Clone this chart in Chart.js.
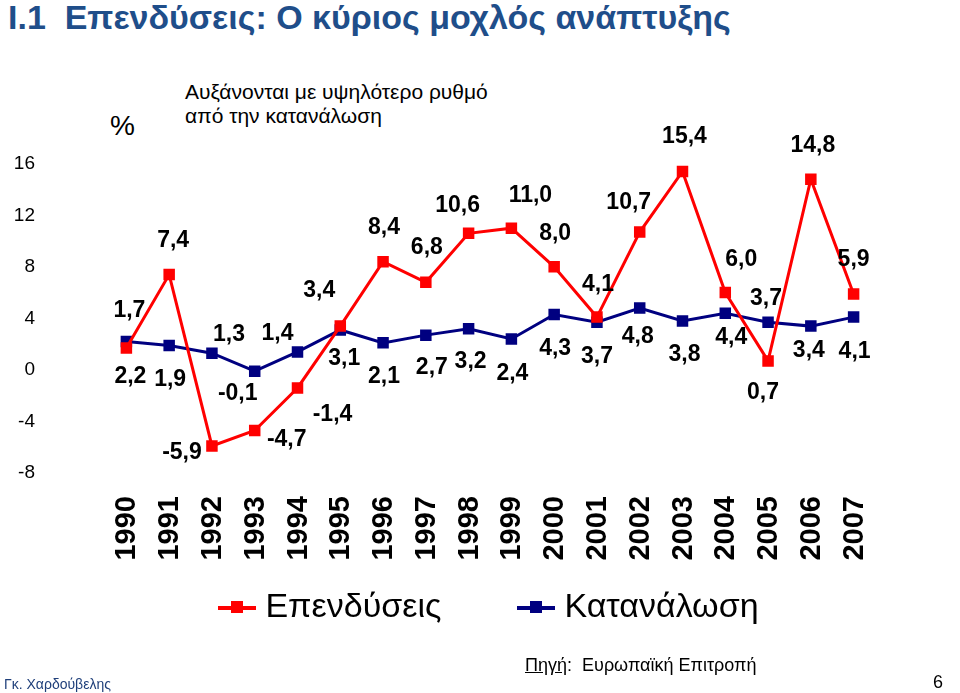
<!DOCTYPE html>
<html>
<head>
<meta charset="utf-8">
<script src="https://cdn.jsdelivr.net/npm/chart.js@4"></script>
<style>
  body { margin: 0; width: 960px; height: 693px; background: #fff; font-family: Arial, "Liberation Sans", sans-serif; position: relative; overflow: hidden; }
  .abs { position: absolute; white-space: nowrap; }
  #chartWrap { position: absolute; left: 0; top: 0; width: 960px; height: 693px; }
</style>
</head>
<body>
<div class="abs" style="left:8px;top:-2px;font-size:34px;font-weight:bold;color:#1f4e8a;">I.1&nbsp; Επενδύσεις: Ο κύριος μοχλός ανάπτυξης</div>
<div class="abs" style="left:110px;top:110px;font-size:28px;">%</div>
<div class="abs" style="left:185px;top:80px;font-size:21px;line-height:24px;">Αυξάνονται με υψηλότερο ρυθμό<br>από την κατανάλωση</div>
<div id="chartWrap"><canvas id="chart" width="960" height="693"></canvas></div>
<div class="abs" style="left:218px;top:586px;font-size:34px;">
  <span style="display:inline-block;width:38px;height:4px;background:#ff0000;vertical-align:middle;position:relative;"><span style="position:absolute;left:13px;top:-5px;width:12px;height:12px;background:#ff0000;"></span></span>
  Επενδύσεις
</div>
<div class="abs" style="left:517px;top:586px;font-size:34px;">
  <span style="display:inline-block;width:38px;height:4px;background:#000080;vertical-align:middle;position:relative;"><span style="position:absolute;left:13px;top:-5px;width:12px;height:12px;background:#000080;"></span></span>
  Κατανάλωση
</div>
<div class="abs" style="left:525px;top:655px;font-size:18px;"><u>Πηγή</u>:&nbsp; Ευρωπαϊκή Επιτροπή</div>
<div class="abs" style="left:4px;top:676px;font-size:14px;color:#1f3f7a;">Γκ. Χαρδούβελης</div>
<div class="abs" style="left:933px;top:672px;font-size:18px;">6</div>
<script>
const years = ['1990','1991','1992','1993','1994','1995','1996','1997','1998','1999','2000','2001','2002','2003','2004','2005','2006','2007'];
const investment = [1.7, 7.4, -5.9, -4.7, -1.4, 3.4, 8.4, 6.8, 10.6, 11.0, 8.0, 4.1, 10.7, 15.4, 6.0, 0.7, 14.8, 5.9];
const consumption = [2.2, 1.9, 1.3, -0.1, 1.4, 3.1, 2.1, 2.7, 3.2, 2.4, 4.3, 3.7, 4.8, 3.8, 4.4, 3.7, 3.4, 4.1];

// label offsets (px) from each point
const invOffsets = [[3,-37],[4,-34],[-30,7],[32,9],[35,27],[-21,-35],[1,-34],[1,-35],[-11,-28],[19,-33],[1,-33],[1,-32],[-11,-29],[2,-35],[16,-33],[-5,32],[2,-34],[0,-34]];
const conOffsets = [[4,35],[1,34],[17,-19],[-17,22],[-20,-18],[4,29],[1,34],[6,33],[2,33],[1,35],[1,34],[0,34],[-2,29],[2,34],[6,24],[-2,-24],[-2,25],[1,35]];

const fmt = v => v.toFixed(1).replace('.', ',');

const labelPlugin = {
    id: 'labels',
    afterDatasetsDraw(chart) {
        const ctx = chart.ctx;
        ctx.save();
        ctx.font = 'bold 23px Arial';
        ctx.fillStyle = '#000';
        ctx.textAlign = 'center';
        ctx.textBaseline = 'middle';
        [[0, investment, invOffsets], [1, consumption, conOffsets]].forEach(([i, vals, offs]) => {
            chart.getDatasetMeta(i).data.forEach((pt, j) => {
                ctx.fillText(fmt(vals[j]), pt.x + offs[j][0], pt.y + offs[j][1]);
            });
        });
        // rotated year labels
        ctx.font = 'bold 29px Arial';
        ctx.textAlign = 'right';
        const xs = chart.scales.x;
        years.forEach((y, j) => {
            ctx.save();
            ctx.translate(xs.getPixelForValue(j) + 1, 496);
            ctx.rotate(-Math.PI / 2);
            ctx.fillText(y, 0, 0);
            ctx.restore();
        });
        ctx.restore();
    }
};

new Chart(document.getElementById('chart'), {
    type: 'line',
    data: {
        labels: years,
        datasets: [{
            label: 'Επενδύσεις',
            data: investment,
            borderColor: '#ff0000',
            backgroundColor: '#ff0000',
            borderWidth: 3,
            pointStyle: 'rect',
            pointRadius: 6,
            tension: 0
        }, {
            label: 'Κατανάλωση',
            data: consumption,
            borderColor: '#000080',
            backgroundColor: '#000080',
            borderWidth: 3,
            pointStyle: 'rect',
            pointRadius: 6,
            tension: 0
        }]
    },
    options: {
        responsive: false,
        animation: false,
        layout: { padding: { left: 5, right: 85, top: 138, bottom: 212 } },
        plugins: { legend: { display: false }, tooltip: { enabled: false } },
        scales: {
            x: {
                offset: true,
                grid: { display: false },
                border: { display: false },
                ticks: { display: false }
            },
            y: {
                min: -8, max: 18,
                grid: { display: false },
                border: { display: false },
                afterFit(s) { s.width = 100; },
                ticks: {
                    stepSize: 2,
                    color: '#000',
                    font: { size: 19, family: 'Arial' },
                    padding: 62
                }
            }
        }
    },
    plugins: [labelPlugin]
});
</script>
</body>
</html>
